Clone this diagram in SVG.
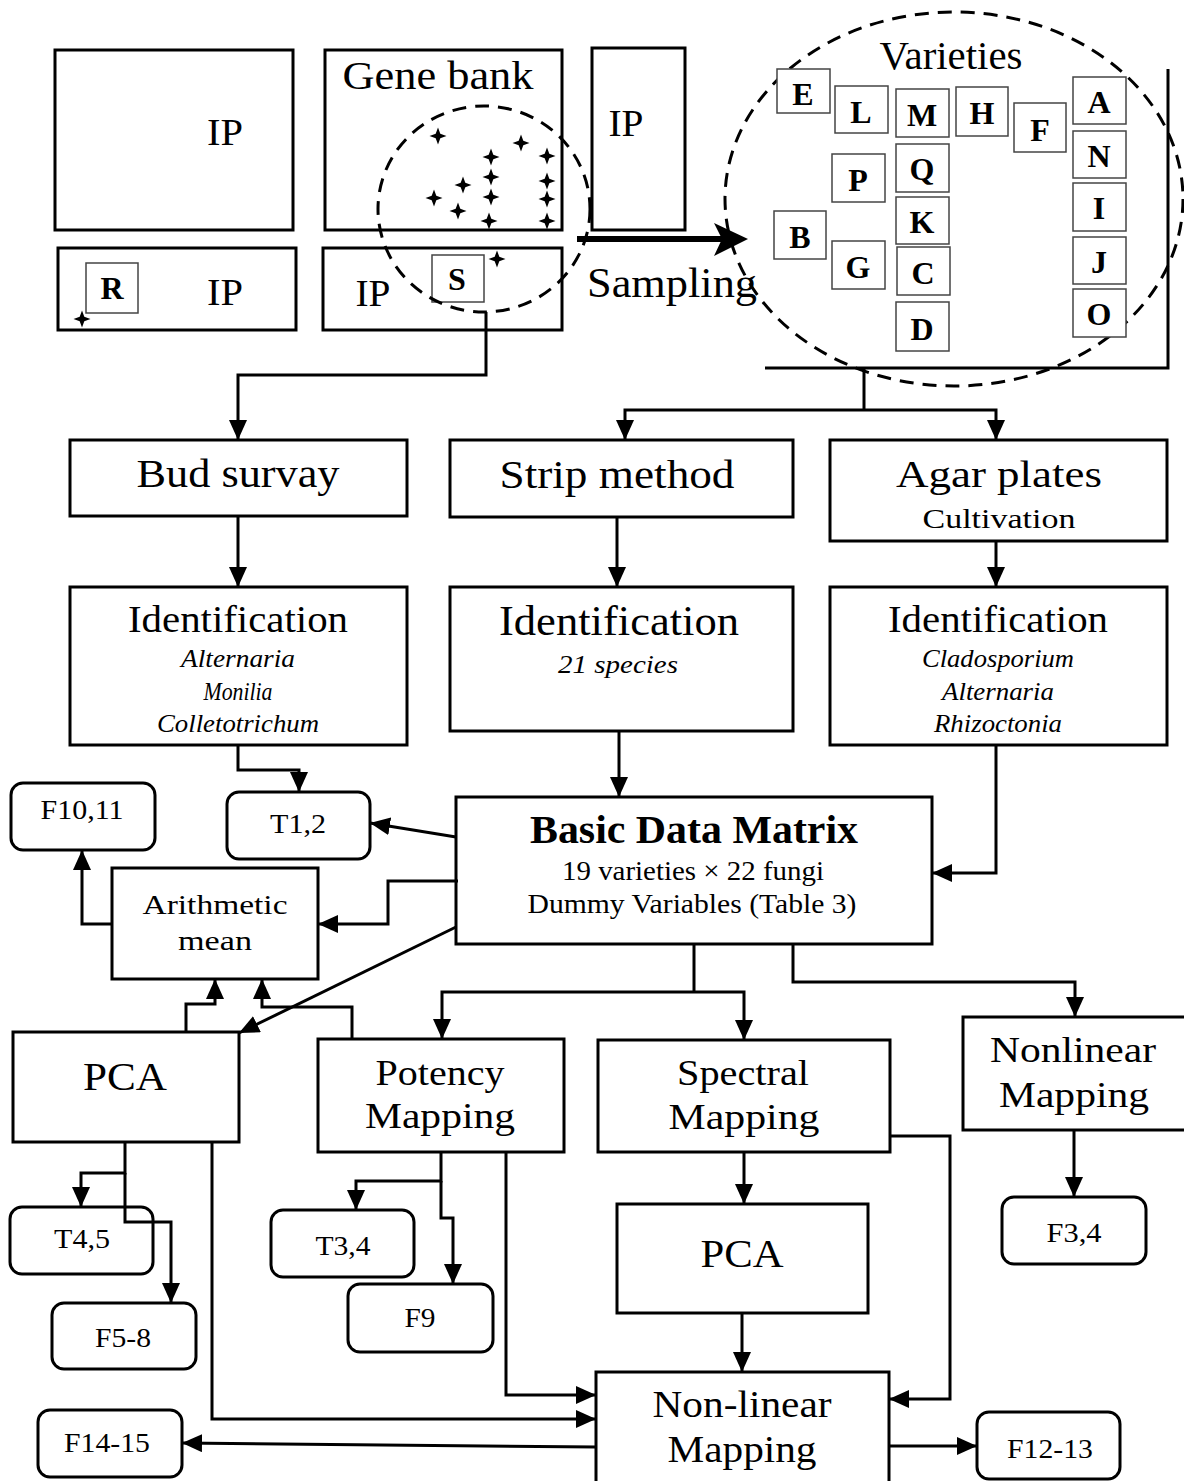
<svg xmlns="http://www.w3.org/2000/svg" xmlns:xlink="http://www.w3.org/1999/xlink" width="1184" height="1481" viewBox="0 0 1184 1481">
<style>
text{font-family:"Liberation Serif","Times New Roman",serif;fill:#000;text-anchor:middle}
.box{fill:#fff;stroke:#000;stroke-width:3}
.obox{fill:none;stroke:#000;stroke-width:3}
.rbox{fill:#fff;stroke:#000;stroke-width:3}
.lbox{fill:#fff;stroke:#444;stroke-width:1.5}
.dash{fill:none;stroke:#000;stroke-width:3;stroke-dasharray:14 9}
.c{fill:none;stroke:#000;stroke-width:3}
.ca{fill:none;stroke:#000;stroke-width:3;marker-end:url(#ah)}
.big{font-size:40px}
.med{font-size:35px}
.sm{font-size:28px}
.it{font-size:26px;font-style:italic}
.let{font-size:32px;font-weight:bold}
</style>
<defs>
<marker id="ah" markerUnits="userSpaceOnUse" markerWidth="20" markerHeight="18" refX="20" refY="9" orient="auto">
<path d="M0,0 L20,9 L0,18 Z" fill="#000"/>
</marker>
<path id="star" d="M0,-8.5 L2.3,-2.3 L8.5,0 L2.3,2.3 L0,8.5 L-2.3,2.3 L-8.5,0 L-2.3,-2.3 Z" fill="#000"/>
</defs>

<g id="field-ip1">
<rect class="obox" x="55" y="50" width="238" height="180"/>
<text x="225" y="145" font-size="37" textLength="36" lengthAdjust="spacingAndGlyphs">IP</text>
</g>
<g id="gene-bank">
<rect class="obox" x="325" y="50" width="237" height="180"/>
<text x="438" y="89" font-size="40" textLength="191" lengthAdjust="spacingAndGlyphs">Gene bank</text>
</g>
<g id="field-ip-tall">
<rect class="obox" x="592" y="48" width="93" height="182"/>
<text x="626" y="136" font-size="37" textLength="35" lengthAdjust="spacingAndGlyphs">IP</text>
</g>
<g id="field-ip-r">
<rect class="obox" x="58" y="248" width="238" height="82"/>
<rect class="lbox" x="86" y="263" width="52" height="50"/>
<text class="let" x="112" y="299">R</text>
<text x="225" y="305" font-size="37" textLength="36" lengthAdjust="spacingAndGlyphs">IP</text>
<use xlink:href="#star" x="82" y="319"/>
</g>
<g id="field-ip-s">
<rect class="obox" x="323" y="248" width="239" height="82"/>
<text x="373" y="306" font-size="37" textLength="35" lengthAdjust="spacingAndGlyphs">IP</text>
<rect class="lbox" x="432" y="255" width="52" height="47"/>
<text class="let" x="457" y="290">S</text>
<use xlink:href="#star" x="497" y="259"/>
</g>
<g id="gene-bank-samples">
<ellipse class="dash" cx="484" cy="209" rx="106" ry="103"/>
<use xlink:href="#star" x="438" y="136"/>
<use xlink:href="#star" x="521" y="143"/>
<use xlink:href="#star" x="491" y="157"/>
<use xlink:href="#star" x="547" y="156"/>
<use xlink:href="#star" x="491" y="177"/>
<use xlink:href="#star" x="463" y="185"/>
<use xlink:href="#star" x="547" y="181"/>
<use xlink:href="#star" x="434" y="198"/>
<use xlink:href="#star" x="491" y="197"/>
<use xlink:href="#star" x="547" y="199"/>
<use xlink:href="#star" x="458" y="211"/>
<use xlink:href="#star" x="489" y="221"/>
<use xlink:href="#star" x="547" y="221"/>
</g>
<g id="sampling">
<line x1="577" y1="239" x2="722" y2="239" stroke="#000" stroke-width="6"/>
<path d="M748,239 L714,223 L722,239 L714,256 Z" fill="#000"/>
<text x="672" y="297" font-size="43" textLength="170" lengthAdjust="spacingAndGlyphs">Sampling</text>
</g>
<g id="varieties">
<ellipse class="dash" cx="954" cy="199" rx="229" ry="187"/>
<text x="951" y="69" font-size="39" textLength="143" lengthAdjust="spacingAndGlyphs">Varieties</text>
<rect class="lbox" x="777" y="69" width="53" height="44"/><text class="let" x="803" y="105">E</text>
<rect class="lbox" x="835" y="86" width="53" height="47"/><text class="let" x="861" y="123">L</text>
<rect class="lbox" x="896" y="89" width="53" height="48"/><text class="let" x="922" y="126">M</text>
<rect class="lbox" x="956" y="87" width="52" height="49"/><text class="let" x="982" y="124">H</text>
<rect class="lbox" x="1014" y="103" width="52" height="49"/><text class="let" x="1040" y="141">F</text>
<rect class="lbox" x="1073" y="77" width="53" height="47"/><text class="let" x="1099" y="113">A</text>
<rect class="lbox" x="1073" y="131" width="53" height="47"/><text class="let" x="1099" y="167">N</text>
<rect class="lbox" x="1073" y="183" width="53" height="48"/><text class="let" x="1099" y="219">I</text>
<rect class="lbox" x="1073" y="237" width="53" height="47"/><text class="let" x="1099" y="273">J</text>
<rect class="lbox" x="1073" y="289" width="53" height="48"/><text class="let" x="1099" y="325">O</text>
<rect class="lbox" x="832" y="154" width="53" height="48"/><text class="let" x="858" y="191">P</text>
<rect class="lbox" x="896" y="144" width="53" height="48"/><text class="let" x="922" y="180">Q</text>
<rect class="lbox" x="896" y="197" width="53" height="47"/><text class="let" x="922" y="233">K</text>
<rect class="lbox" x="897" y="247" width="53" height="48"/><text class="let" x="923" y="284">C</text>
<rect class="lbox" x="896" y="302" width="53" height="49"/><text class="let" x="922" y="340">D</text>
<rect class="lbox" x="774" y="211" width="52" height="48"/><text class="let" x="800" y="248">B</text>
<rect class="lbox" x="832" y="241" width="53" height="48"/><text class="let" x="858" y="278">G</text>
<path class="c" d="M1168,69 V368 H765"/>
</g>

<g id="bud-survay">
<rect class="box" x="70" y="440" width="337" height="76"/>
<text class="big" x="238" y="487" textLength="203" lengthAdjust="spacingAndGlyphs">Bud survay</text>
</g>
<g id="strip-method">
<rect class="box" x="450" y="440" width="343" height="77"/>
<text class="big" x="617" y="488" textLength="235" lengthAdjust="spacingAndGlyphs">Strip method</text>
</g>
<g id="agar-plates">
<rect class="box" x="830" y="440" width="337" height="101"/>
<text x="999" y="487" font-size="38" textLength="206" lengthAdjust="spacingAndGlyphs">Agar plates</text>
<text class="sm" x="999" y="528" textLength="153" lengthAdjust="spacingAndGlyphs">Cultivation</text>
</g>
<g id="ident-left">
<rect class="box" x="70" y="587" width="337" height="158"/>
<text x="238" y="632" font-size="38" textLength="220" lengthAdjust="spacingAndGlyphs">Identification</text>
<text class="it" x="238" y="667" textLength="114" lengthAdjust="spacingAndGlyphs">Alternaria</text>
<text class="it" x="238" y="700" textLength="69" lengthAdjust="spacingAndGlyphs">Monilia</text>
<text class="it" x="238" y="732" textLength="162" lengthAdjust="spacingAndGlyphs">Colletotrichum</text>
</g>
<g id="ident-mid">
<rect class="box" x="450" y="587" width="343" height="144"/>
<text x="619" y="635" font-size="42" textLength="240" lengthAdjust="spacingAndGlyphs">Identification</text>
<text class="it" x="618" y="673" textLength="120" lengthAdjust="spacingAndGlyphs">21 species</text>
</g>
<g id="ident-right">
<rect class="box" x="830" y="587" width="337" height="158"/>
<text x="998" y="632" font-size="38" textLength="220" lengthAdjust="spacingAndGlyphs">Identification</text>
<text class="it" x="998" y="667" textLength="152" lengthAdjust="spacingAndGlyphs">Cladosporium</text>
<text class="it" x="998" y="700" textLength="112" lengthAdjust="spacingAndGlyphs">Alternaria</text>
<text class="it" x="998" y="732" textLength="128" lengthAdjust="spacingAndGlyphs">Rhizoctonia</text>
</g>

<g id="f10-11">
<rect class="rbox" x="11" y="783" width="144" height="67" rx="12"/>
<text class="sm" x="82" y="819" textLength="83" lengthAdjust="spacingAndGlyphs">F10,11</text>
</g>
<g id="t1-2">
<rect class="rbox" x="227" y="792" width="143" height="67" rx="12"/>
<text class="sm" x="298" y="833" textLength="56" lengthAdjust="spacingAndGlyphs">T1,2</text>
</g>
<g id="arith-mean">
<rect class="box" x="112" y="868" width="206" height="111"/>
<text class="sm" x="215" y="914" textLength="145" lengthAdjust="spacingAndGlyphs">Arithmetic</text>
<text class="sm" x="215" y="950" textLength="74" lengthAdjust="spacingAndGlyphs">mean</text>
</g>
<g id="basic-data-matrix">
<rect class="box" x="456" y="797" width="476" height="147"/>
<text x="694" y="843" font-size="39" font-weight="bold" textLength="328" lengthAdjust="spacingAndGlyphs">Basic Data Matrix</text>
<text x="693" y="880" font-size="27" textLength="262" lengthAdjust="spacingAndGlyphs">19 varieties × 22 fungi</text>
<text x="692" y="913" font-size="27" textLength="329" lengthAdjust="spacingAndGlyphs">Dummy Variables (Table 3)</text>
</g>
<g id="pca-left">
<rect class="box" x="13" y="1032" width="226" height="110"/>
<text x="125" y="1090" font-size="41" textLength="84" lengthAdjust="spacingAndGlyphs">PCA</text>
</g>
<g id="potency-mapping">
<rect class="box" x="318" y="1039" width="246" height="113"/>
<text class="med" x="440" y="1085" textLength="129" lengthAdjust="spacingAndGlyphs">Potency</text>
<text class="med" x="440" y="1128" textLength="150" lengthAdjust="spacingAndGlyphs">Mapping</text>
</g>
<g id="spectral-mapping">
<rect class="box" x="598" y="1040" width="292" height="112"/>
<text class="med" x="743" y="1085" textLength="132" lengthAdjust="spacingAndGlyphs">Spectral</text>
<text class="med" x="744" y="1129" textLength="151" lengthAdjust="spacingAndGlyphs">Mapping</text>
</g>
<g id="nonlinear-mapping">
<rect class="box" x="963" y="1017" width="240" height="113"/>
<text class="med" x="1073" y="1062" textLength="166" lengthAdjust="spacingAndGlyphs">Nonlinear</text>
<text class="med" x="1074" y="1107" textLength="150" lengthAdjust="spacingAndGlyphs">Mapping</text>
</g>
<g id="t4-5">
<rect class="rbox" x="10" y="1207" width="143" height="67" rx="12"/>
<text class="sm" x="82" y="1248" textLength="56" lengthAdjust="spacingAndGlyphs">T4,5</text>
</g>
<g id="f5-8">
<rect class="rbox" x="52" y="1303" width="144" height="66" rx="12"/>
<text class="sm" x="123" y="1347" textLength="56" lengthAdjust="spacingAndGlyphs">F5-8</text>
</g>
<g id="t3-4">
<rect class="rbox" x="271" y="1210" width="143" height="67" rx="12"/>
<text class="sm" x="343" y="1255" textLength="55" lengthAdjust="spacingAndGlyphs">T3,4</text>
</g>
<g id="f9">
<rect class="rbox" x="348" y="1284" width="145" height="68" rx="12"/>
<text class="sm" x="420" y="1327" textLength="31" lengthAdjust="spacingAndGlyphs">F9</text>
</g>
<g id="pca-right">
<rect class="box" x="617" y="1204" width="251" height="109"/>
<text x="742" y="1267" font-size="41" textLength="83" lengthAdjust="spacingAndGlyphs">PCA</text>
</g>
<g id="f3-4">
<rect class="rbox" x="1002" y="1197" width="144" height="67" rx="12"/>
<text class="sm" x="1074" y="1242" textLength="55" lengthAdjust="spacingAndGlyphs">F3,4</text>
</g>
<g id="non-linear-mapping">
<rect class="box" x="596" y="1372" width="293" height="120"/>
<text x="742" y="1417" font-size="38" textLength="179" lengthAdjust="spacingAndGlyphs">Non-linear</text>
<text x="742" y="1462" font-size="38" textLength="149" lengthAdjust="spacingAndGlyphs">Mapping</text>
</g>
<g id="f14-15">
<rect class="rbox" x="38" y="1410" width="144" height="67" rx="12"/>
<text class="sm" x="107" y="1452" textLength="86" lengthAdjust="spacingAndGlyphs">F14-15</text>
</g>
<g id="f12-13">
<rect class="rbox" x="977" y="1412" width="143" height="67" rx="12"/>
<text class="sm" x="1050" y="1458" textLength="86" lengthAdjust="spacingAndGlyphs">F12-13</text>
</g>

<g id="connectors">
<path class="ca" d="M486,312 V375 H238 V440" stroke-width="2.5"/>
<path class="c" d="M864,368 V410" stroke-width="2.5"/>
<path class="ca" d="M864,410 H625 V440"/>
<path class="ca" d="M864,410 H996 V440"/>
<path class="ca" d="M238,516 V587"/>
<path class="ca" d="M617,517 V587"/>
<path class="ca" d="M996,541 V587"/>
<path class="ca" d="M238,745 V770 H299 V792"/>
<path class="ca" d="M619,731 V797"/>
<path class="ca" d="M996,745 V873 H932"/>
<path class="ca" d="M456,837 L370,823"/>
<path class="ca" d="M458,881 H388 V924 H318"/>
<path class="ca" d="M456,927 L239,1033" stroke-width="2.5"/>
<path class="ca" d="M112,924 H82 V850"/>
<path class="ca" d="M186,1032 V1004 H215 V979"/>
<path class="ca" d="M352,1040 V1007 H262 V979"/>
<path class="c" d="M694,944 V992"/>
<path class="ca" d="M694,992 H442 V1039"/>
<path class="ca" d="M694,992 H744 V1040"/>
<path class="ca" d="M793,944 V982 H1075 V1017"/>
<path class="ca" d="M125,1142 V1173 H81 V1207"/>
<path class="ca" d="M125,1173 V1222 H171 V1303"/>
<path class="ca" d="M212,1142 V1419 H596"/>
<path class="ca" d="M441,1152 V1181 H356 V1210"/>
<path class="ca" d="M441,1181 V1218 H453 V1284"/>
<path class="ca" d="M506,1152 V1395 H596"/>
<path class="ca" d="M744,1152 V1204"/>
<path class="ca" d="M890,1136 H950 V1399 H889"/>
<path class="ca" d="M1074,1130 V1197"/>
<path class="ca" d="M742,1313 V1372"/>
<path class="ca" d="M889,1446 H977"/>
<path class="ca" d="M596,1447 L182,1443"/>
</g>
</svg>
